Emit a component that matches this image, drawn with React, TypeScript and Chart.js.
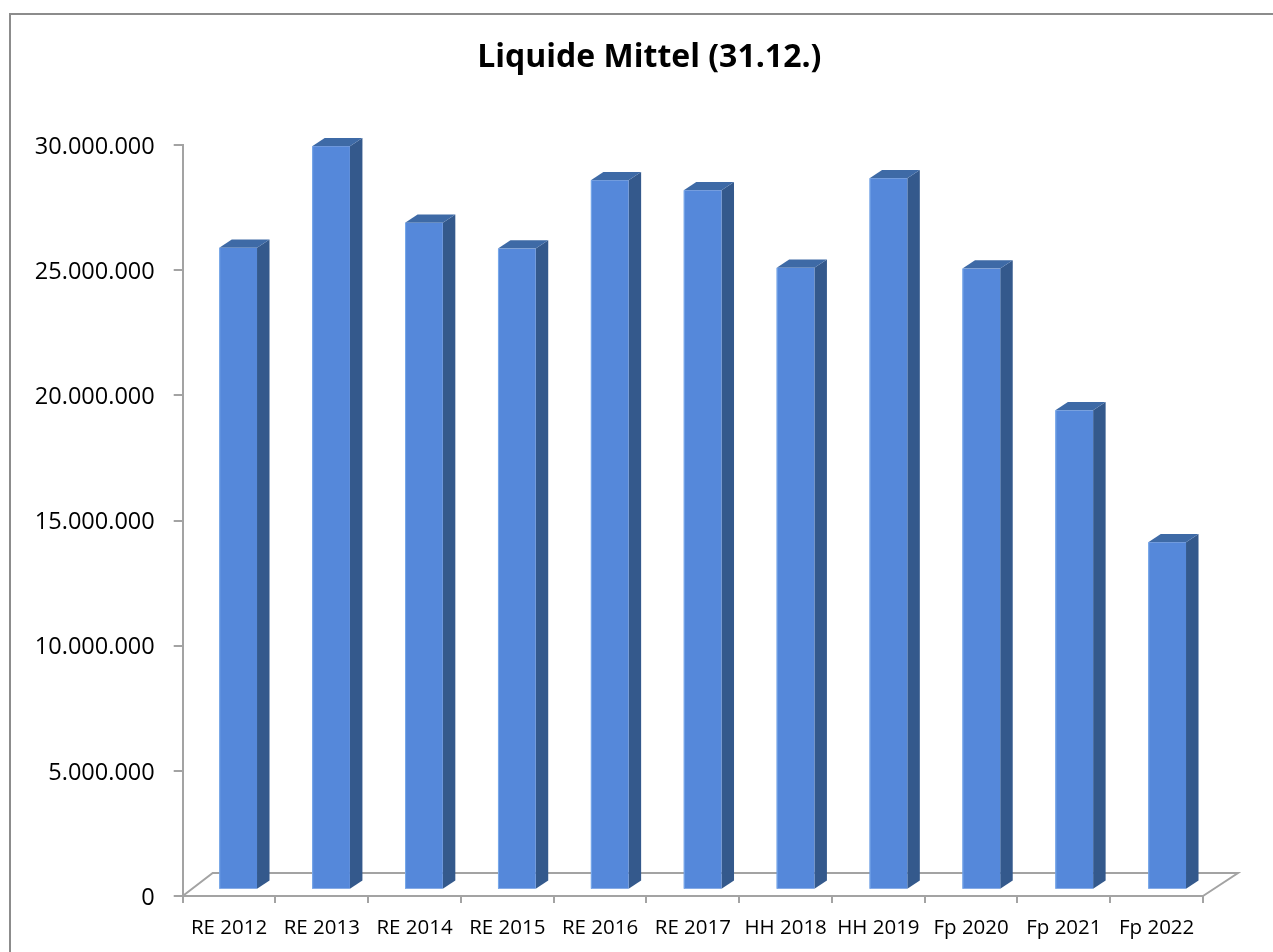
import React, { useEffect, useRef } from "react";
import { Chart, registerables } from "chart.js";

Chart.register(...registerables);

const categories = [
  "RE 2012", "RE 2013", "RE 2014", "RE 2015", "RE 2016", "RE 2017",
  "HH 2018", "HH 2019", "Fp 2020", "Fp 2021", "Fp 2022",
];
const liquideMittel = [
  25640000, 29700000, 26640000, 25610000, 28340000, 27940000,
  24840000, 28420000, 24810000, 19150000, 13880000,
];
const yTickValues = [0, 5000000, 10000000, 15000000, 20000000, 25000000, 30000000];
const chartTitle = "Liquide Mittel (31.12.)";

const FRONT = "#5588DA";
const FRONT_EDGE = "#79A9EA";
const SIDE = "#34598C";
const TOP = "#3E6AA6";
const AXIS = "#a3a3a3";

const fmt = (v: number) => String(Math.round(v)).replace(/\B(?=(\d{3})+(?!\d))/g, ".");

const frame3d = {
  id: "frame3d",
  beforeDraw(chart: any) {
    const ctx = chart.ctx;
    ctx.save();
    ctx.strokeStyle = "#8c8c8c";
    ctx.lineWidth = 2;
    ctx.beginPath();
    ctx.moveTo(10, chart.height + 10);
    ctx.lineTo(10, 14);
    ctx.lineTo(chart.width + 10, 14);
    ctx.stroke();
    ctx.fillStyle = "#000";
    ctx.font = "bold 32px 'Open Sans'";
    ctx.textAlign = "center";
    ctx.textBaseline = "alphabetic";
    ctx.fillText(chartTitle, 649.3, 66.5);
    ctx.restore();
  },
  beforeDatasetsDraw(chart: any) {
    const { ctx, chartArea } = chart;
    const { left, right, bottom } = chartArea;
    ctx.save();
    ctx.strokeStyle = AXIS;
    ctx.lineWidth = 2;
    ctx.beginPath();
    ctx.moveTo(left, bottom);
    ctx.lineTo(left + 30, bottom - 23);
    ctx.lineTo(right + 35, bottom - 23);
    ctx.lineTo(right, bottom);
    ctx.stroke();
    ctx.restore();
  },
  afterDatasetsDraw(chart: any) {
    const { ctx, chartArea } = chart;
    const { left, right } = chartArea;
    const meta = chart.getDatasetMeta(0);
    ctx.save();
    meta.data.forEach((el: any) => {
      const { x, y, base, width } = el.getProps(["x", "y", "base", "width"], true);
      const t = (x - left) / (right - left);
      const ox = 9 + 1.6 * t;
      const oy = 6.3;
      const dx = 12.5;
      const dy = 8.3;
      const fx0 = x - width / 2 + ox;
      const fx1 = x + width / 2 + ox;
      const fy0 = y - oy;
      const fy1 = base - oy;
      ctx.fillStyle = SIDE;
      ctx.beginPath();
      ctx.moveTo(fx1, fy0);
      ctx.lineTo(fx1 + dx, fy0 - dy);
      ctx.lineTo(fx1 + dx, fy1 - dy);
      ctx.lineTo(fx1, fy1);
      ctx.closePath();
      ctx.fill();
      ctx.fillStyle = TOP;
      ctx.beginPath();
      ctx.moveTo(fx0, fy0);
      ctx.lineTo(fx0 + dx, fy0 - dy);
      ctx.lineTo(fx1 + dx, fy0 - dy);
      ctx.lineTo(fx1, fy0);
      ctx.closePath();
      ctx.fill();
      ctx.fillStyle = FRONT;
      ctx.fillRect(fx0, fy0, fx1 - fx0, fy1 - fy0);
      ctx.fillStyle = FRONT_EDGE;
      ctx.fillRect(fx0, fy0, 1, fy1 - fy0);
    });
    ctx.restore();
  },
};

export default function App() {
  const ref = useRef<HTMLCanvasElement | null>(null);
  useEffect(() => {
    if (!ref.current) return;
    const chart = new Chart(ref.current, {
      type: "bar",
      data: {
        labels: categories,
        datasets: [
          {
            label: chartTitle,
            data: liquideMittel,
            backgroundColor: "rgba(0,0,0,0)",
            borderWidth: 0,
            categoryPercentage: 1,
            barPercentage: 0.407,
          },
        ],
      },
      options: {
        animation: false,
        responsive: true,
        maintainAspectRatio: false,
        layout: { padding: { left: 0, right: 70, top: 145, bottom: 0 } },
        plugins: {
          legend: { display: false },
          tooltip: { enabled: false },
          title: { display: false },
        },
        scales: {
          x: {
            offset: true,
            grid: {
              display: true,
              offset: true,
              drawOnChartArea: false,
              drawTicks: true,
              tickLength: 7,
              color: AXIS,
              lineWidth: 2,
            },
            border: { display: true, color: AXIS, width: 2 },
            ticks: {
              color: "#000",
              padding: 13,
              maxRotation: 0,
              autoSkip: false,
              font: { family: "Open Sans", size: 20.5 },
            },
            afterFit(scale: any) {
              scale.height = 56;
            },
          },
          y: {
            min: 0,
            max: 30000000,
            grid: {
              display: true,
              drawOnChartArea: false,
              drawTicks: true,
              tickLength: 9,
              color: AXIS,
              lineWidth: 2,
            },
            border: { display: true, color: AXIS, width: 2 },
            ticks: {
              color: "#000",
              padding: 19,
              labelOffset: 2,
              font: { family: "Open Sans", size: 23.5 },
              callback: (v: any) => fmt(Number(v)),
            },
            afterBuildTicks(scale: any) {
              scale.ticks = yTickValues.map((v) => ({ value: v }));
            },
            afterFit(scale: any) {
              scale.width = 182.7;
            },
          },
        },
      },
      plugins: [frame3d],
    });
    return () => chart.destroy();
  }, []);
  return (
    <div style={{ position: "fixed", left: 0, top: 0, width: 1273, height: 952, background: "#fff" }}>
      <canvas ref={ref} />
    </div>
  );
}
